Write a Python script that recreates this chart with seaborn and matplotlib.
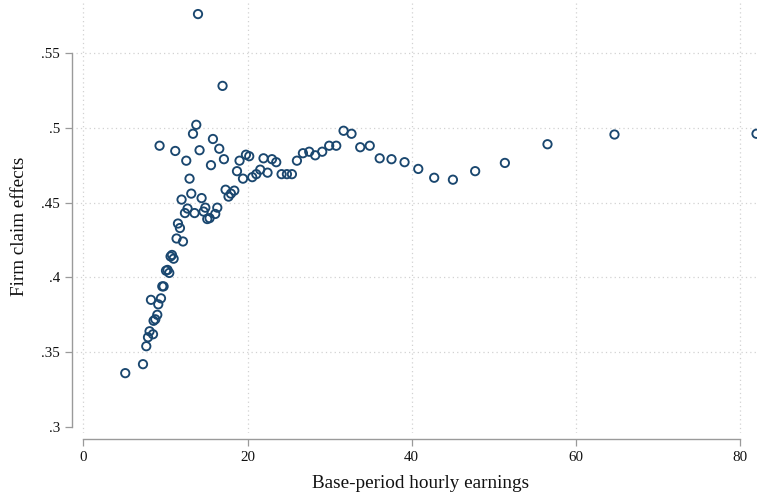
import matplotlib
matplotlib.use("Agg")
import matplotlib.pyplot as plt
import seaborn as sns
import pandas as pd

# Binned means: base-period hourly earnings vs. estimated firm claim effects
earnings = [
    5.11, 7.27, 7.67, 7.88, 8.07, 8.49, 8.56, 8.77, 9.01, 8.24,
    9.13, 9.46, 9.62, 9.78, 10.07, 10.26, 10.47, 10.63, 10.80, 11.00,
    11.36, 12.14, 11.53, 11.77, 9.29, 11.20, 12.54, 12.94, 11.97, 13.15,
    14.41, 13.76, 13.36, 14.16, 15.79, 16.56, 17.13, 15.55, 18.72, 19.03,
    19.45, 19.81, 20.21, 20.58, 21.07, 21.55, 22.44, 21.95, 22.98, 23.50,
    17.33, 17.69, 17.98, 18.39, 12.70, 12.38, 13.55, 14.86, 14.65, 15.10,
    15.38, 16.07, 16.32, 24.15, 24.80, 25.41, 26.02, 26.75, 27.52, 28.25,
    29.10, 29.95, 30.81, 31.70, 32.67, 33.73, 34.89, 36.10, 37.54, 39.13,
    40.80, 42.74, 45.02, 47.73, 51.35, 56.54, 64.70, 82.00, 13.97, 16.96,
]
claim_effects = [
    .336, .342, .354, .360, .364, .362, .371, .372, .375, .385,
    .382, .386, .394, .394, .4045, .405, .403, .414, .415, .4125,
    .426, .424, .436, .433, .488, .4845, .478, .466, .452, .456,
    .453, .502, .496, .485, .4925, .486, .479, .475, .471, .478,
    .466, .482, .481, .467, .469, .472, .470, .4796, .479, .477,
    .4586, .454, .456, .458, .446, .443, .443, .4466, .444, .439,
    .4396, .4424, .4466, .469, .469, .469, .478, .483, .484, .4816,
    .484, .488, .488, .498, .496, .487, .488, .4796, .479, .477,
    .4725, .4666, .4653, .471, .4765, .489, .4955, .496, .576, .528,
]
x_ticks = [0, 20, 40, 60, 80]
y_ticks = [.30, .35, .40, .45, .50, .55]
y_tick_labels = [".3", ".35", ".4", ".45", ".5", ".55"]

df = pd.DataFrame({"earnings": earnings, "effect": claim_effects})

sns.set_theme(style="white")
plt.rcParams["font.family"] = ["Liberation Serif", "DejaVu Serif"]

W, H = 757, 496
fig = plt.figure(figsize=(W / 100, H / 100), dpi=100)
# plot region in pixels: left 76, right 757, top 0, bottom 433
ax = fig.add_axes([76 / W, (H - 433) / H, (W - 76) / W, 433 / H])

navy = "#1a476f"
axis_gray = "#9a9a9a"
grid_gray = "#d2d2d2"

# dotted reference grid
for xv in x_ticks:
    ax.axvline(xv, color=grid_gray, lw=0.9, ls=(0, (1, 2.5)), zorder=0)
for yv in y_ticks[1:]:
    ax.axhline(yv, color=grid_gray, lw=0.9, ls=(0, (1, 2.5)), zorder=0)

sns.scatterplot(
    data=df, x="earnings", y="effect", ax=ax,
    marker="o", s=36, facecolors="none", edgecolor=navy, linewidth=1.35,
    clip_on=True, zorder=3,
)

ax.set_xlim(-0.89, 82.06)
ax.set_ylim(.296, .5854)
ax.set_xticks(x_ticks)
ax.set_xticklabels([str(v) for v in x_ticks])
ax.set_yticks(y_ticks)
ax.set_yticklabels(y_tick_labels)

for side in ("top", "right"):
    ax.spines[side].set_visible(False)
ax.spines["left"].set_position(("outward", 2.9))
ax.spines["left"].set_bounds(.30, .55)
ax.spines["bottom"].set_position(("outward", 4.3))
ax.spines["bottom"].set_bounds(0, 80)
for side in ("left", "bottom"):
    ax.spines[side].set_color(axis_gray)
    ax.spines[side].set_linewidth(1.0)

ax.tick_params(axis="both", direction="out", length=5, width=0.9,
               color=axis_gray, labelsize=10.8, labelcolor="#111111", pad=3.5)
ax.tick_params(axis="y", left=True)
ax.tick_params(axis="x", bottom=True)

ax.set_xlabel("Base-period hourly earnings", fontsize=13.8, color="#111111", va="center")
ax.set_ylabel("Firm claim effects", fontsize=13.8, color="#111111", va="center")
ax.xaxis.set_label_coords((421 - 76) / (W - 76), (433 - 483) / 433)
ax.yaxis.set_label_coords((20 - 76) / (W - 76), (433 - 226) / 433)

fig.savefig("out.png", dpi=100)
